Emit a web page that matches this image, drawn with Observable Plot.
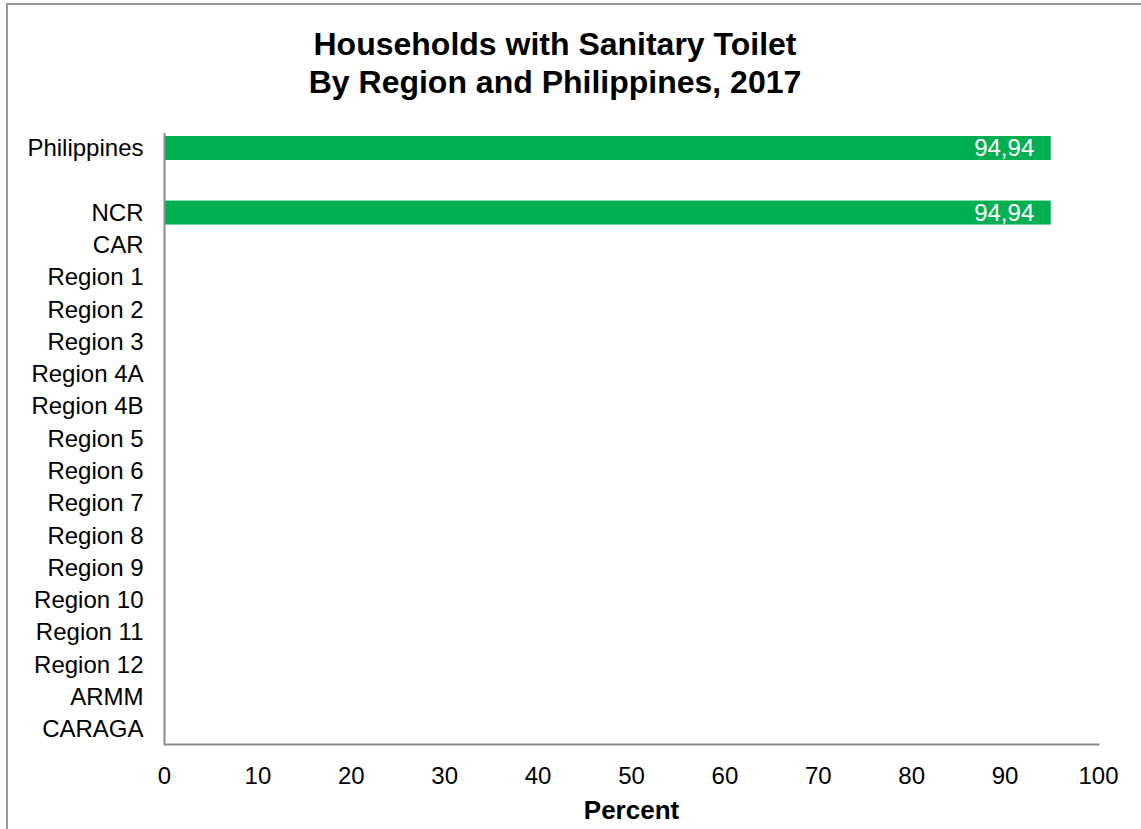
<!DOCTYPE html>
<html>
<head>
<meta charset="utf-8">
<script src="https://cdn.jsdelivr.net/npm/d3@7"></script>
<script src="https://cdn.jsdelivr.net/npm/@observablehq/plot@0.6"></script>
<style>
  html, body { margin: 0; padding: 0; background: #fff; overflow: hidden; }
  body { width: 1141px; height: 829px; position: relative; font-family: "Liberation Sans", Arial, sans-serif; }
  #frame { position: absolute; left: 6px; top: 3px; width: 1200px; height: 900px; border: 2px solid #999; box-sizing: border-box; }
  #title { position: absolute; left: 0; top: 25px; width: 1110px; text-align: center; font-weight: bold; font-size: 32px; line-height: 38px; color: #000; }
  #chart { position: absolute; left: 0; top: 100px; }
</style>
</head>
<body>
<div id="frame"></div>
<div id="title">Households with Sanitary Toilet<br>By Region and Philippines, 2017</div>
<div id="chart"></div>
<script>
const regions = ["Philippines", " ", "NCR", "CAR", "Region 1", "Region 2", "Region 3", "Region 4A", "Region 4B", "Region 5", "Region 6", "Region 7", "Region 8", "Region 9", "Region 10", "Region 11", "Region 12", "ARMM", "CARAGA"];
const values = [94.94, null, 94.94, null, null, null, null, null, null, null, null, null, null, null, null, null, null, null, null];
const xTicks = [0, 10, 20, 30, 40, 50, 60, 70, 80, 90, 100];
const xLabel = "Percent";

const data = regions.map((r, i) => ({region: r, value: values[i]})).filter(d => d.value != null);
const fmt = v => v.toFixed(2).replace(".", ",");

const chart = Plot.plot({
  width: 1141,
  height: 729,
  marginTop: 33,
  marginBottom: 85,
  marginLeft: 164,
  marginRight: 43,
  style: {fontFamily: '"Liberation Sans", Arial, sans-serif', fontSize: "24px", color: "#000", background: "transparent", overflow: "visible"},
  x: {domain: [0, 100], ticks: xTicks, label: null},
  y: {type: "band", domain: regions, paddingInner: 0.2565, paddingOuter: 0.093, round: false, label: null},
  marks: [
    Plot.barX(data, {x: "value", y: "region", fill: "#00b050"}),
    Plot.text(data, {x: "value", y: "region", text: d => fmt(d.value), textAnchor: "end", dx: -17, fill: "white", fontSize: 24}),
    Plot.ruleX([0], {stroke: "#8c8c8c", strokeWidth: 2}),
    Plot.frame({anchor: "bottom", stroke: "#8c8c8c", strokeWidth: 2}),
    Plot.axisY({tickSize: 0, tickPadding: 21, fontSize: 24, label: null}),
    Plot.axisX({tickSize: 0, tickPadding: 22, fontSize: 24, label: null}),
    Plot.text([xLabel], {frameAnchor: "bottom", dy: 74, fontWeight: "bold", fontSize: 26, fill: "#000"})
  ]
});
document.getElementById("chart").appendChild(chart);
</script>
</body>
</html>
